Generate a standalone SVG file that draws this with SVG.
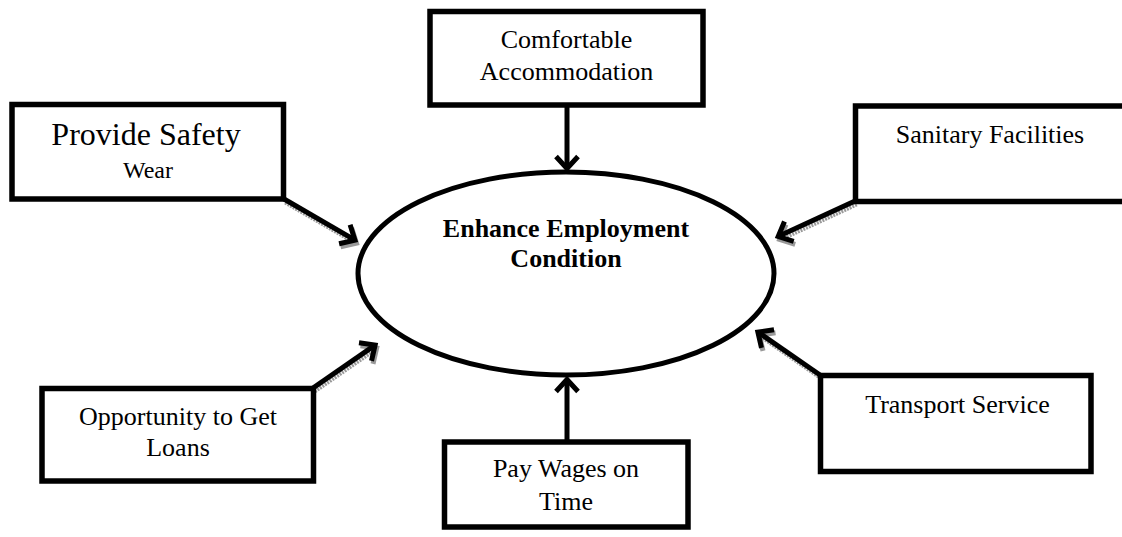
<svg xmlns="http://www.w3.org/2000/svg" width="1122" height="537" viewBox="0 0 1122 537">
<style>
.box{fill:#fff;stroke:#000;stroke-width:5.5}
.t{font-family:"Liberation Serif","Times New Roman",serif;font-size:26px;fill:#000;text-anchor:middle}
.b{font-weight:bold}
.c{stroke:#000;stroke-width:5;fill:none}
.s{stroke:#9a9a9a;stroke-width:5;fill:none;stroke-dasharray:2 1}
</style>
<defs>
<marker id="arr" markerUnits="userSpaceOnUse" viewBox="-20 -15 30 30" markerWidth="30" markerHeight="30" refX="0" refY="0" orient="auto">
<path d="M -11 -11 L 1 0 L -11 11" fill="none" stroke="#000" stroke-width="5"/>
</marker>
<marker id="arrs" markerUnits="userSpaceOnUse" viewBox="-20 -15 30 30" markerWidth="30" markerHeight="30" refX="0" refY="0" orient="auto">
<path d="M -11 -11 L 1 0 L -11 11" fill="none" stroke="#9a9a9a" stroke-width="5"/>
</marker>
</defs>
<rect width="1122" height="537" fill="#fff"/>
<g id="connectors">
<g id="shadows">
<line class="s" x1="285.5" y1="202" x2="355.6" y2="242.7" marker-end="url(#arrs)"/>
<line class="s" x1="856.5" y1="204" x2="780.6" y2="239.1" marker-end="url(#arrs)"/>
<line class="s" x1="314.5" y1="391" x2="375.8" y2="348.6" marker-end="url(#arrs)"/>
<line class="s" x1="821.5" y1="378" x2="760.2" y2="335.6" marker-end="url(#arrs)"/>
</g>
<line class="c" x1="284" y1="199" x2="354.1" y2="239.7" marker-end="url(#arr)"/>
<line class="c" x1="855" y1="201" x2="779.1" y2="236.1" marker-end="url(#arr)"/>
<line class="c" x1="313" y1="388" x2="374.3" y2="345.6" marker-end="url(#arr)"/>
<line class="c" x1="820" y1="375" x2="758.7" y2="332.6" marker-end="url(#arr)"/>
<line class="c" x1="567" y1="105" x2="567" y2="167.5" marker-end="url(#arr)"/>
<line class="c" x1="567" y1="442" x2="567" y2="380.5" marker-end="url(#arr)"/>
</g>
<g id="center">
<ellipse cx="566" cy="273.5" rx="208" ry="101.5" fill="none" stroke="#000" stroke-width="5"/>
<text class="t b" x="566" y="237">Enhance Employment</text>
<text class="t b" x="566" y="267">Condition</text>
</g>
<g id="comfortable">
<rect class="box" x="430" y="11.5" width="273" height="93.5"/>
<text class="t" x="566.5" y="48">Comfortable</text>
<text class="t" x="566.5" y="80">Accommodation</text>
</g>
<g id="safety">
<rect class="box" x="12" y="104.5" width="271.5" height="94.5"/>
<text class="t" x="146" y="145" style="font-size:32px">Provide Safety</text>
<text class="t" x="148" y="178" style="font-size:24px">Wear</text>
</g>
<g id="sanitary">
<rect class="box" x="855.5" y="106" width="280" height="95.5"/>
<text class="t" x="990" y="143">Sanitary Facilities</text>
</g>
<g id="loans">
<rect class="box" x="42" y="388.5" width="271.5" height="92.5"/>
<text class="t" x="178" y="425">Opportunity to Get</text>
<text class="t" x="178" y="456">Loans</text>
</g>
<g id="transport">
<rect class="box" x="820.5" y="375.5" width="270.5" height="96"/>
<text class="t" x="957.5" y="413">Transport Service</text>
</g>
<g id="wages">
<rect class="box" x="444.5" y="442" width="243.5" height="85"/>
<text class="t" x="566" y="477">Pay Wages on</text>
<text class="t" x="566" y="510">Time</text>
</g>
</svg>
